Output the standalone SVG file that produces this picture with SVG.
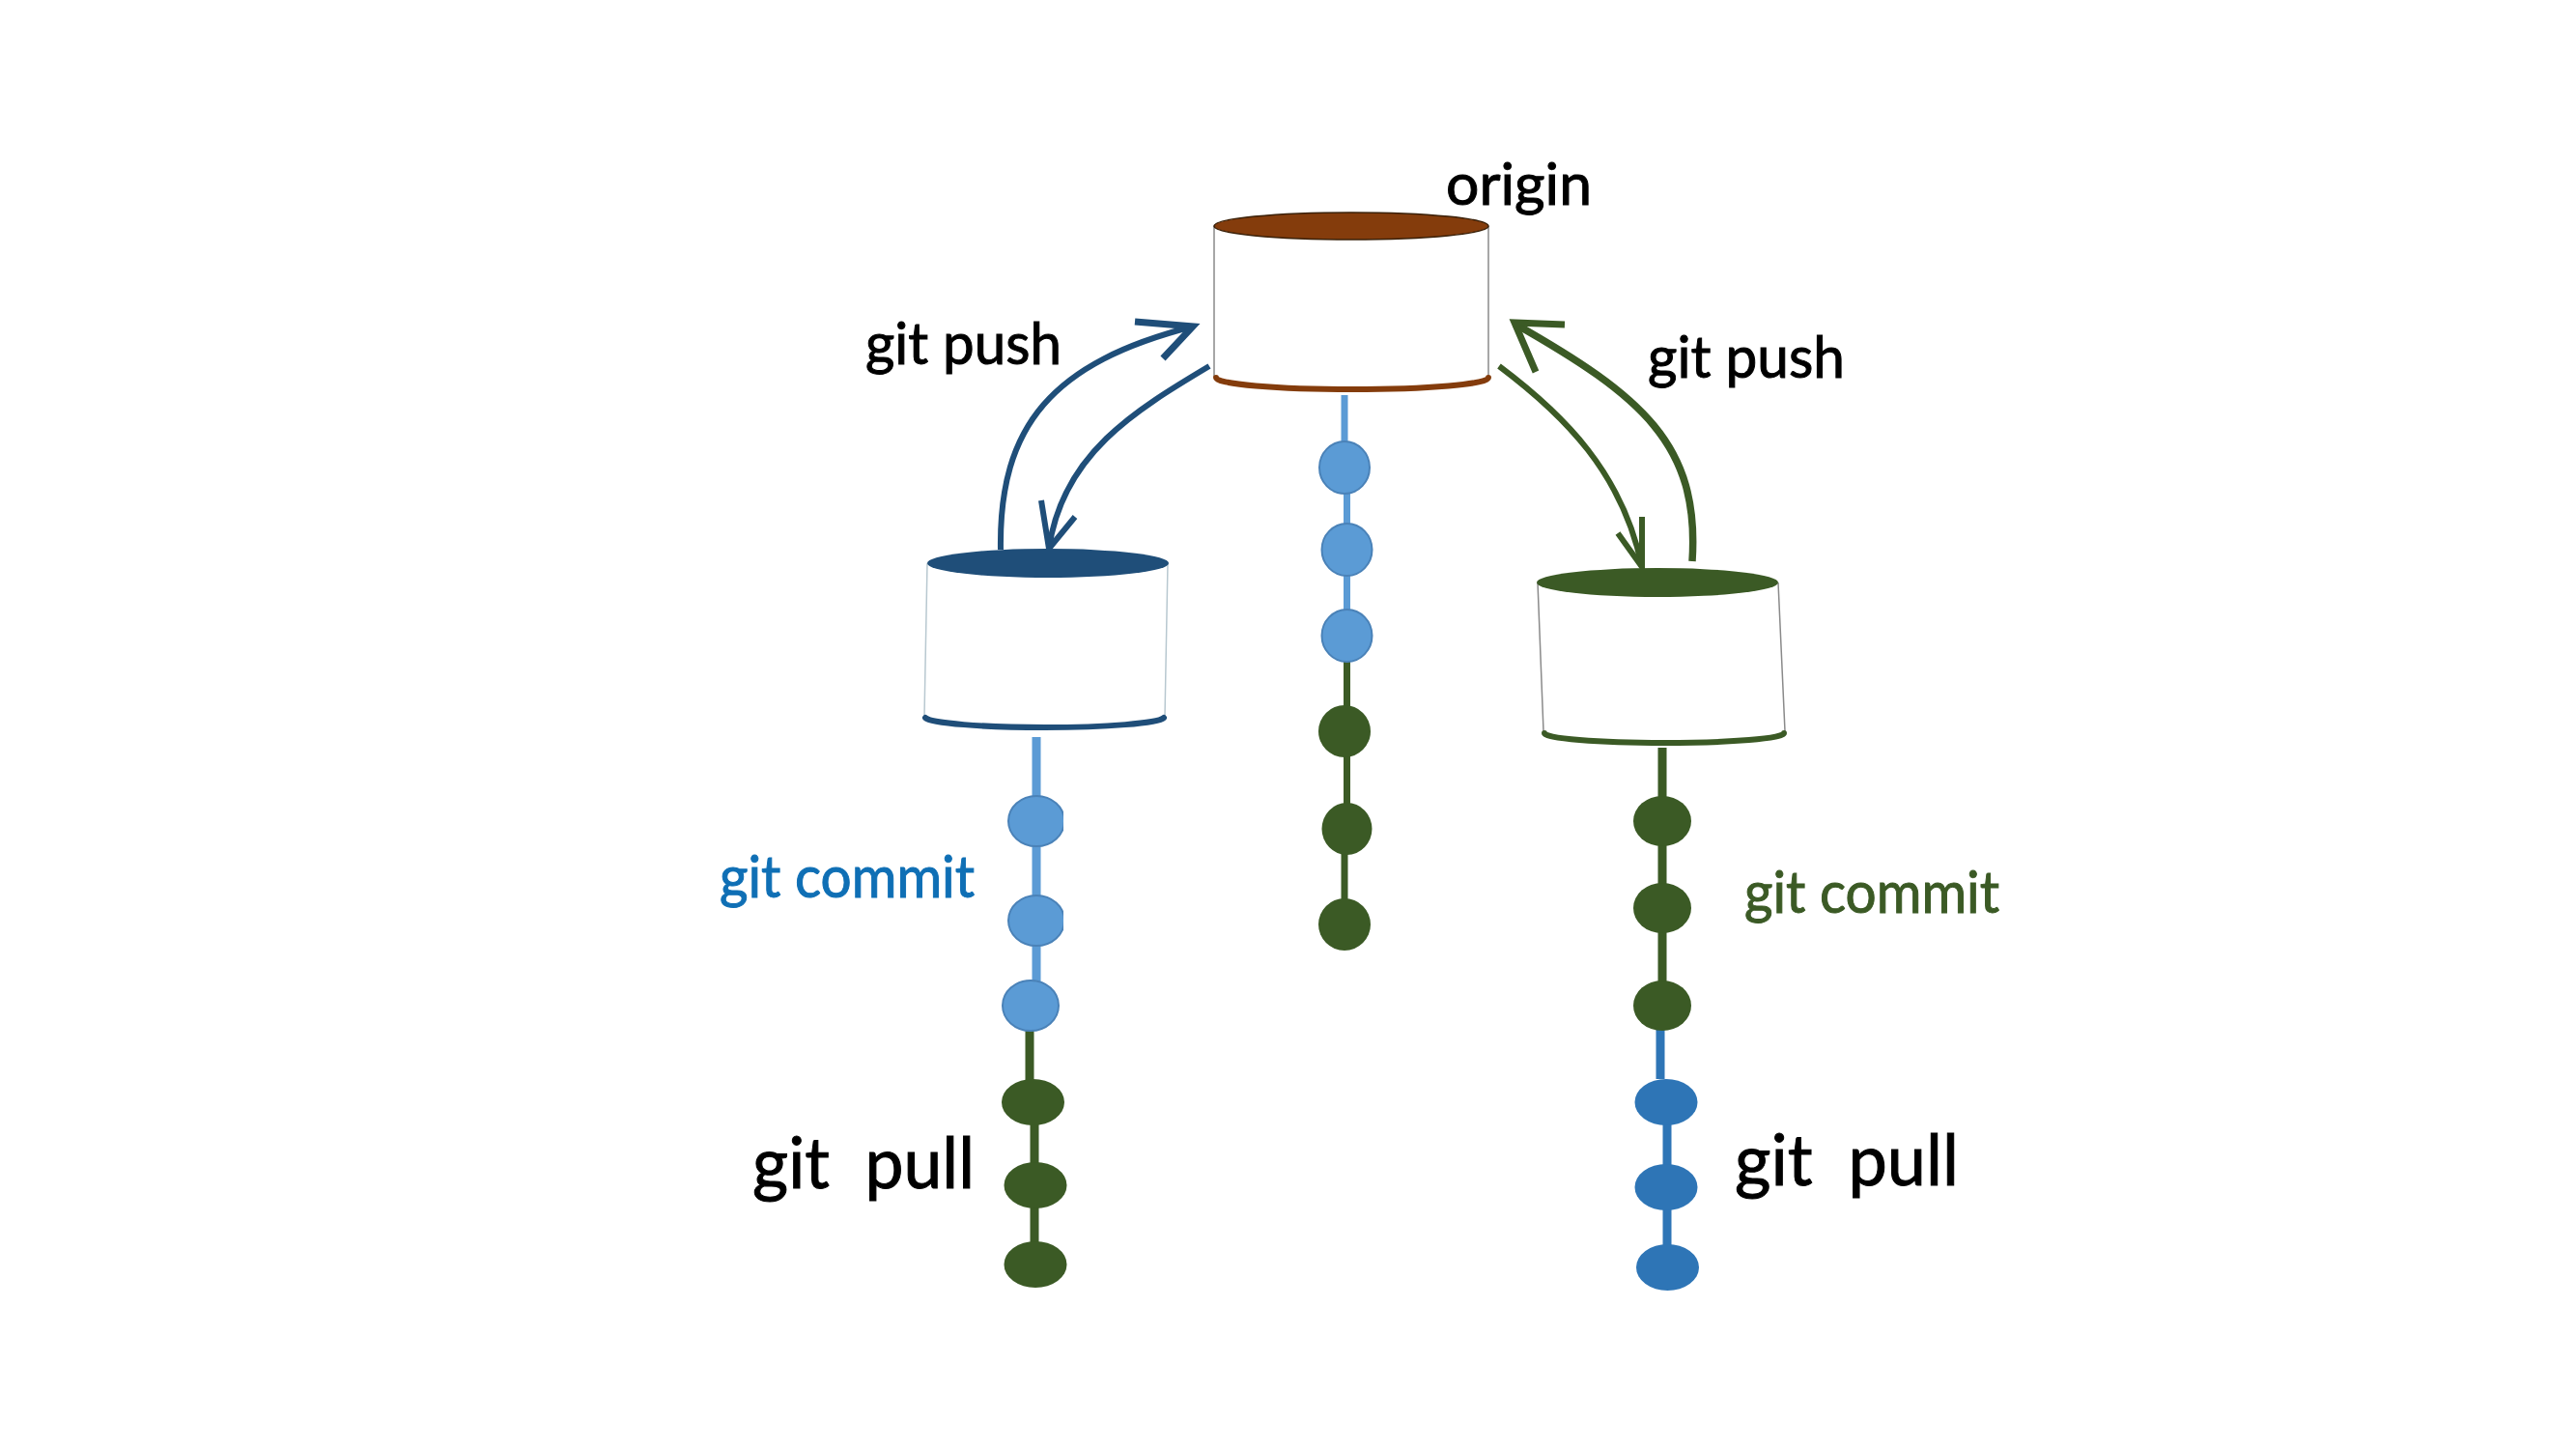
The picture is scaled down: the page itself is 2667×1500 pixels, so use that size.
<svg xmlns="http://www.w3.org/2000/svg" width="2667" height="1500" viewBox="0 0 2667 1500">
<style>
text{font-family:"Lato","Liberation Sans",sans-serif;white-space:pre;stroke-width:1}
.k{fill:#000;stroke:#000}
.s{fill:none;stroke:#8a8a8a;stroke-width:1.5}
.lb{fill:#5B9BD5;stroke:#4a82b8;stroke-width:2}
.g{fill:#3B5A25}
.db{fill:#2E75B6}
.navy{stroke:#1F4E79;fill:none}
.grn{stroke:#3B5A25;fill:none}
.line{fill:none;stroke-width:9}
.base{fill:none;stroke-width:6;stroke-linecap:round}
</style>
<rect width="2667" height="1500" fill="#fff"/>
<g id="connectors">
<path class="line" d="M1392 409V484L1394.5 484V680" stroke="#5B9BD5" style="stroke-width:7"/>
<path class="line" d="M1394.5 680V858L1392 858V957" stroke="#3B5A25" style="stroke-width:7"/>
<path class="line" d="M1073 763V1020" stroke="#5B9BD5"/>
<path class="line" d="M1066 1041V1140" stroke="#3B5A25"/>
<path class="line" d="M1071 1141V1309" stroke="#3B5A25"/>
<path class="line" d="M1721 774V1041" stroke="#3B5A25"/>
<path class="line" d="M1719 1066V1117" stroke="#2E75B6"/>
<path class="line" d="M1726 1141V1312" stroke="#2E75B6"/>
<g class="navy" stroke-width="6">
<path d="M1036 569C1034 440 1090 375 1235 338"/>
<path d="M1175 333L1235 338L1204 371" stroke-width="7"/>
<path d="M1252 379C1175 425 1100 470 1086 568"/>
<path d="M1078 518L1086 568L1113 535"/>
</g>
<g class="grn">
<path d="M1552 379C1620 430 1680 490 1700 587" stroke-width="6"/>
<path d="M1675 552L1700 587V535" stroke-width="6"/>
<path d="M1752 581C1760 460 1700 410 1568 335" stroke-width="7.5"/>
<path d="M1620 336L1568 334L1590 385" stroke-width="7"/>
</g>
</g>
<g id="origin">
<path class="s" d="M1257 234V390M1541 234V390"/>
<path class="base" d="M1259 391A141 12 0 0 0 1541 391" stroke="#843C0C"/>
<ellipse cx="1399" cy="234" rx="142" ry="14" fill="#843C0C" stroke="#3a2008" stroke-width="1.5"/>
<text x="1497" y="212" class="k" font-size="60" textLength="151" lengthAdjust="spacingAndGlyphs">origin</text>
</g>
<g id="repo-left">
<path d="M960 583L957 742M1209 583L1206 742" fill="none" stroke="#b8c8d0" stroke-width="1.5"/>
<path class="base" d="M958 743A124 11 0 0 0 1205 743" stroke="#1F4E79"/>
<ellipse cx="1085" cy="583" rx="125" ry="15" fill="#1F4E79"/>
</g>
<g id="repo-right">
<path class="s" d="M1592 603L1598 757M1841 603L1848 757"/>
<path class="base" d="M1599 759A124 10 0 0 0 1847 759" stroke="#3B5A25"/>
<ellipse cx="1716" cy="603" rx="125" ry="15" fill="#3B5A25"/>
</g>
<g id="commits-middle">
<ellipse class="lb" cx="1392" cy="484" rx="26" ry="27"/>
<ellipse class="lb" cx="1394.5" cy="569" rx="26" ry="27"/>
<ellipse class="lb" cx="1394.5" cy="658" rx="26" ry="27"/>
<ellipse class="g" cx="1392" cy="757" rx="27" ry="27"/>
<ellipse class="g" cx="1394.5" cy="858" rx="26" ry="27"/>
<ellipse class="g" cx="1392" cy="957" rx="27" ry="27"/>
</g>
<g id="commits-left">
<ellipse class="lb" cx="1073" cy="850" rx="29" ry="26"/>
<ellipse class="lb" cx="1073" cy="953" rx="29" ry="26"/>
<rect x="1101" y="820" width="8" height="170" fill="#fff"/>
<ellipse class="lb" cx="1067" cy="1041" rx="29" ry="26"/>
<ellipse class="g" cx="1069.5" cy="1141" rx="32.5" ry="24"/>
<ellipse class="g" cx="1072" cy="1227" rx="32.5" ry="24"/>
<ellipse class="g" cx="1072" cy="1309" rx="32.5" ry="24"/>
</g>
<g id="commits-right">
<ellipse class="g" cx="1721" cy="850" rx="30" ry="26"/>
<ellipse class="g" cx="1721" cy="940" rx="30" ry="26"/>
<ellipse class="g" cx="1721" cy="1041" rx="30" ry="26"/>
<ellipse class="db" cx="1725" cy="1141" rx="32.5" ry="24"/>
<ellipse class="db" cx="1725" cy="1229" rx="32.5" ry="24"/>
<ellipse class="db" cx="1726.5" cy="1312" rx="32.5" ry="24"/>
</g>
<g id="labels">
<text x="896" y="377" class="k" font-size="60" textLength="203" lengthAdjust="spacingAndGlyphs">git push</text>
<text x="1706" y="391" class="k" font-size="60" textLength="204" lengthAdjust="spacingAndGlyphs">git push</text>
<text x="745" y="929" fill="#0F6FB5" stroke="#0F6FB5" font-size="60" textLength="264" lengthAdjust="spacingAndGlyphs">git commit</text>
<text x="1806" y="945" fill="#3B5A25" stroke="#3B5A25" font-size="60" textLength="264" lengthAdjust="spacingAndGlyphs">git commit</text>
<text x="779" y="1230" class="k" font-size="74" textLength="230" lengthAdjust="spacingAndGlyphs">git  pull</text>
<text x="1796" y="1227" class="k" font-size="74" textLength="232" lengthAdjust="spacingAndGlyphs">git  pull</text>
</g>
</svg>
